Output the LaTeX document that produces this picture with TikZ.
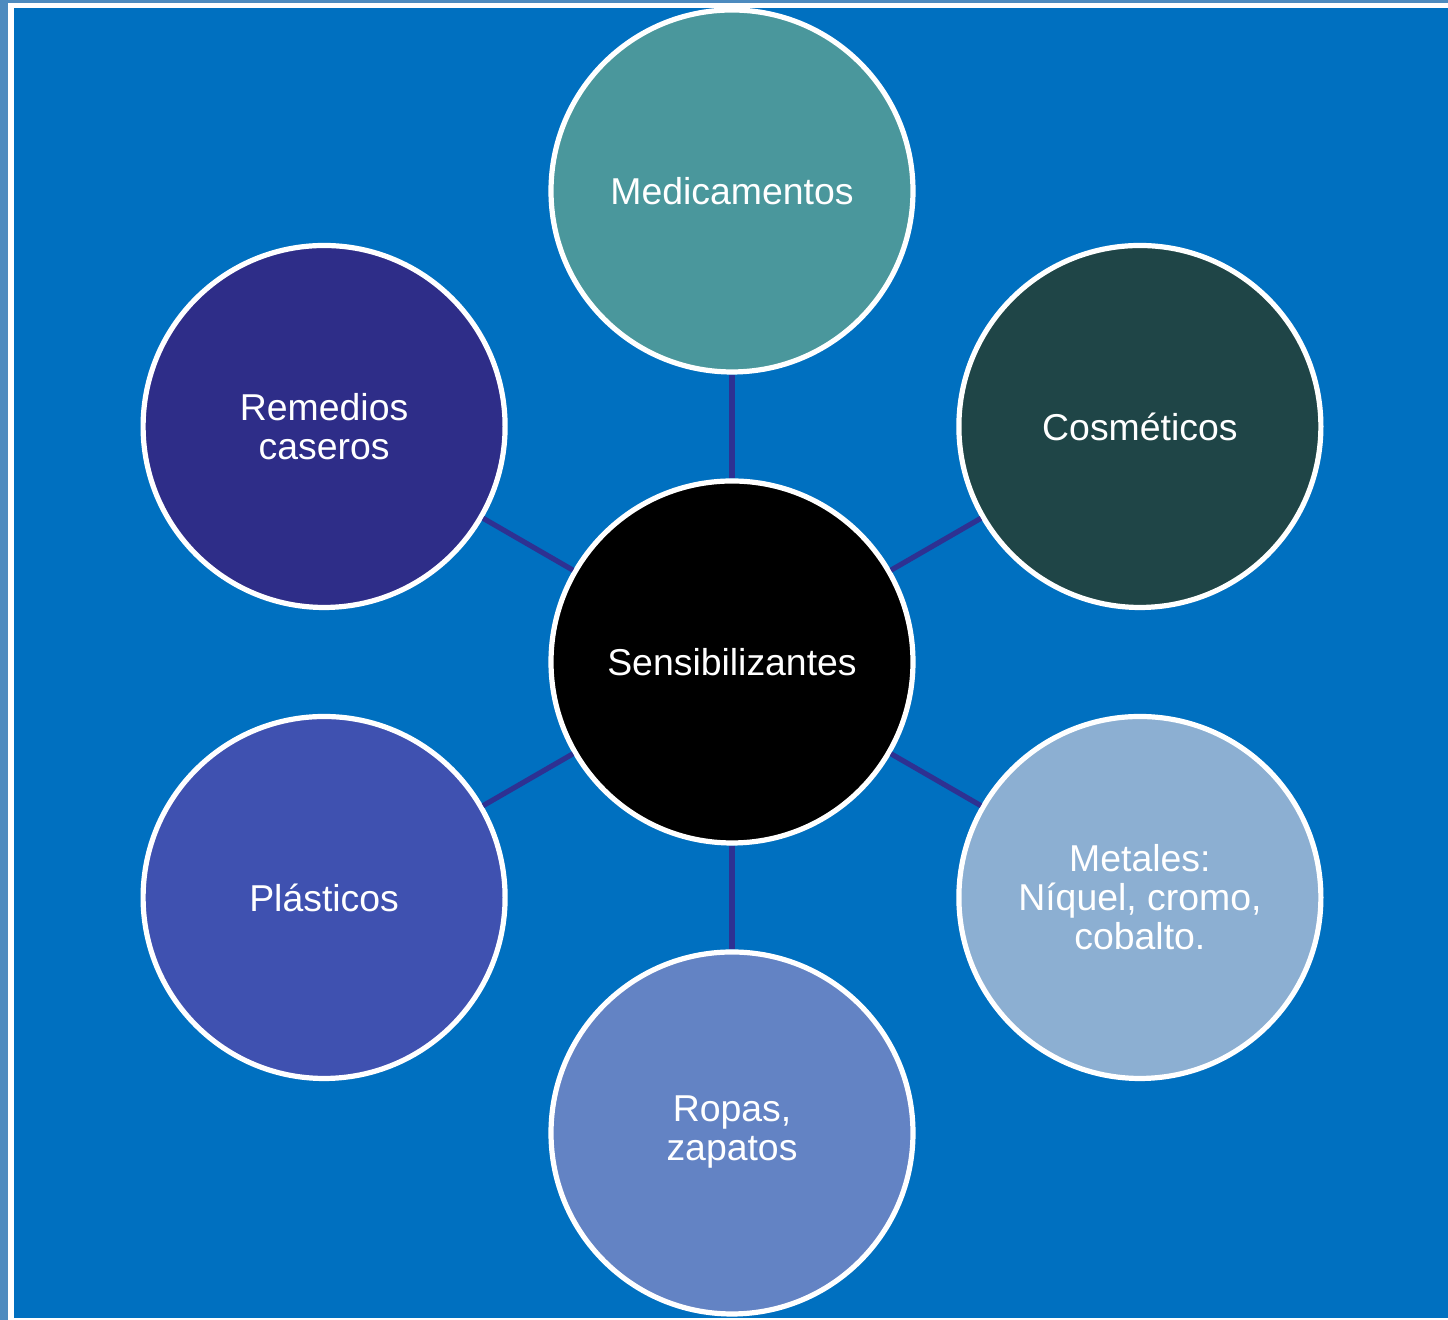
\documentclass[tikz,border=0pt]{standalone}
\usepackage{fontspec}
\setmainfont{Liberation Sans}
\usetikzlibrary{positioning}

\definecolor{framecol}{HTML}{4D8BBF}
\definecolor{bgcol}{HTML}{0070C0}
\definecolor{linkcol}{HTML}{2E3192}
\definecolor{medcol}{HTML}{4A979C}
\definecolor{coscol}{HTML}{1F4547}
\definecolor{remcol}{HTML}{2E2D88}
\definecolor{placol}{HTML}{3F51B0}
\definecolor{metcol}{HTML}{8CAFD2}
\definecolor{ropcol}{HTML}{6383C4}

\tikzset{
  topic/.style={circle,draw=white,line width=2.6pt,minimum size=181pt,
    inner sep=0pt,text=white,align=center,
    font=\fontsize{18.7}{19.5}\selectfont},
  link/.style={draw=linkcol,line width=2.6pt}
}

\begin{document}
\begin{tikzpicture}[x=0.5pt,y=0.5pt]
  \useasboundingbox (0,0) rectangle (1448,1320);
  \fill[framecol] (0,0) rectangle (1448,1320);
  \fill[white] (8,0) rectangle (1448,1317);
  \fill[bgcol] (14,2) rectangle (1448,1312);
  \begin{scope}[shift={(732,658)}]
    \node[topic,fill=black] (C) at (0,0) {Sensibilizantes};
    \node[topic,fill=medcol] (M) at (90:471) {Medicamentos};
    \node[topic,fill=coscol] (K) at (30:471) {Cosméticos};
    \node[topic,fill=metcol] (N) at (-30:471) {Metales:\\Níquel, cromo,\\cobalto.};
    \node[topic,fill=ropcol] (R) at (-90:471) {\raisebox{-2.5pt}{\begin{tabular}{@{}c@{}}Ropas,\\zapatos\end{tabular}}};
    \node[topic,fill=placol] (P) at (210:471) {Plásticos};
    \node[topic,fill=remcol] (H) at (150:471) {Remedios\\caseros};
  \end{scope}
  \foreach \n in {M,K,N,R,P,H}
    \draw[link] (C) -- (\n);
\end{tikzpicture}
\end{document}
